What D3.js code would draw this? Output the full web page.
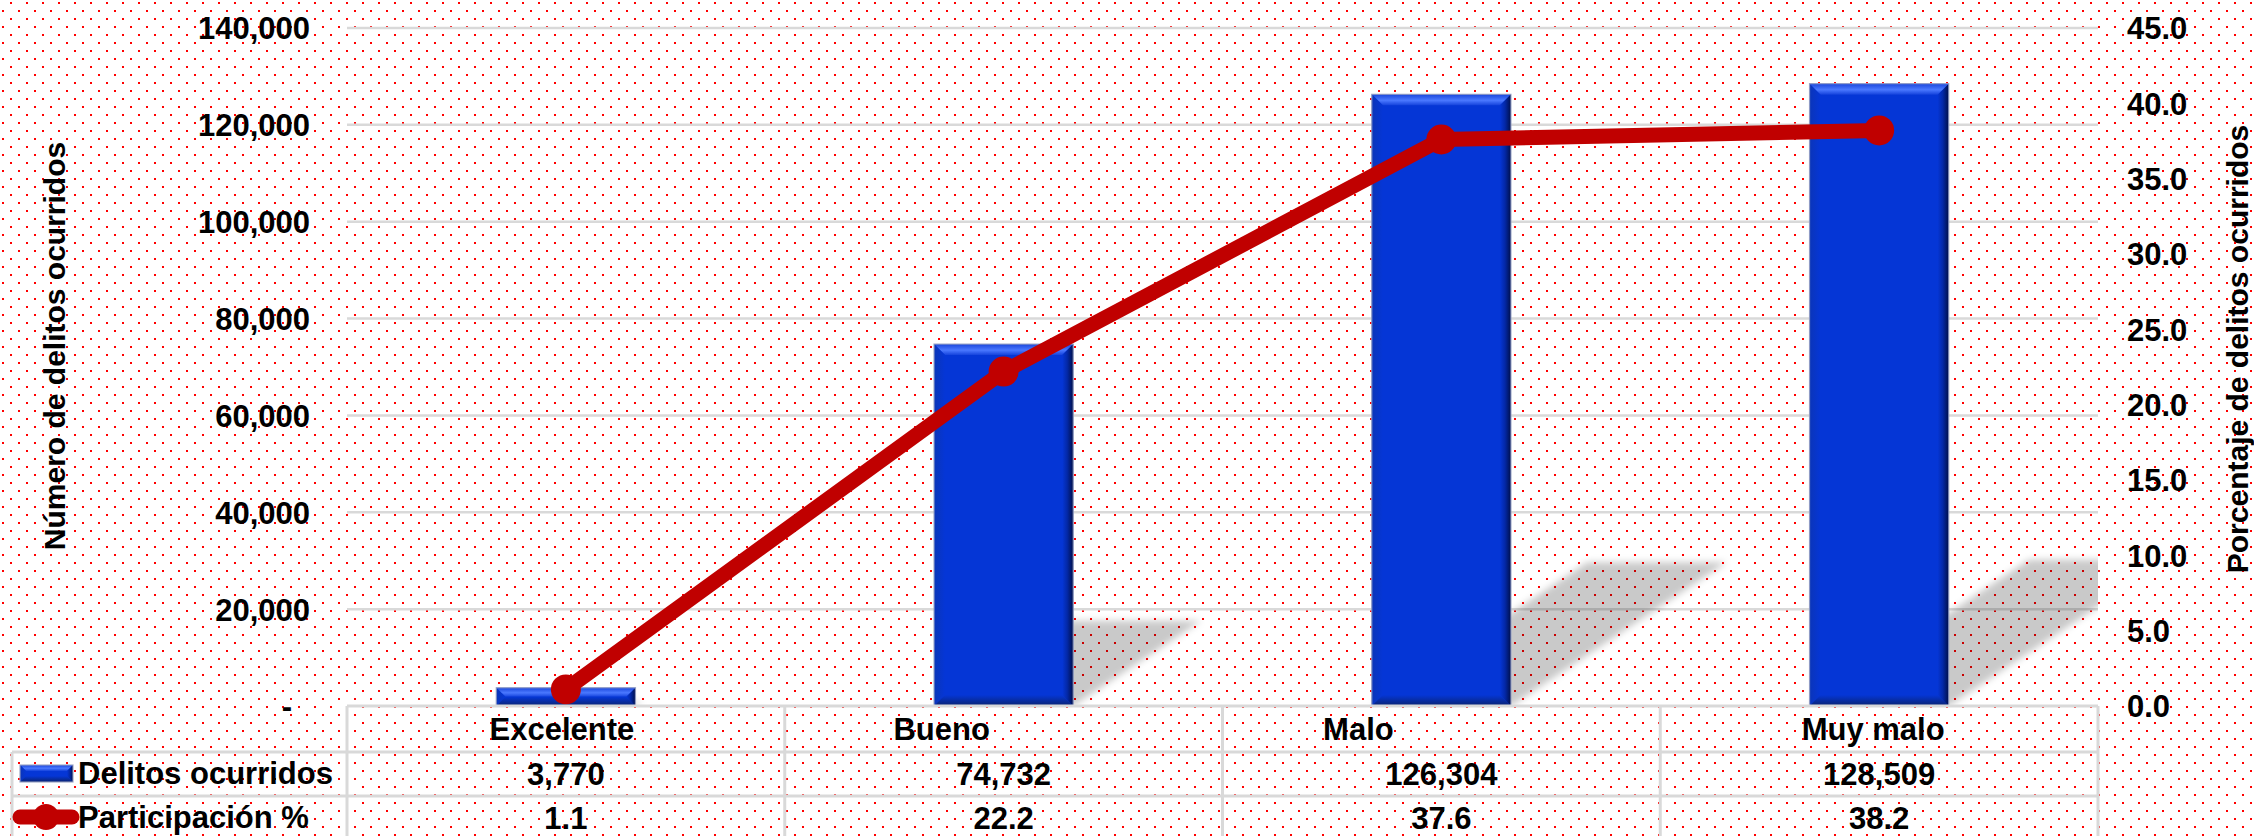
<!DOCTYPE html>
<html>
<head>
<meta charset="utf-8">
<script src="https://cdn.jsdelivr.net/npm/d3@7/dist/d3.min.js"></script>
<style>
  html, body { margin: 0; padding: 0; background: #ffffff; }
  svg { display: block; }
  text { font-family: "Liberation Sans", Arial, sans-serif; font-weight: bold; fill: #000; }
</style>
</head>
<body>
<svg id="chart" width="2254" height="836"></svg>
<script>
// ---------------- DATA ----------------
const categories = ["Excelente", "Bueno", "Malo", "Muy malo"];
const delitos = [3770, 74732, 126304, 128509];
const participacion = [1.1, 22.2, 37.6, 38.2];
const seriesNames = ["Delitos ocurridos", "Participación %"];
const leftTicks = [0, 20000, 40000, 60000, 80000, 100000, 120000, 140000];
const rightTicks = [0, 5, 10, 15, 20, 25, 30, 35, 40, 45];
const leftTitle = "Número de delitos ocurridos";
const rightTitle = "Porcentaje de delitos ocurridos";

// ---------------- LAYOUT ----------------
const W = 2254, H = 836;
const plot = { left: 347, right: 2098, top: 28, bottom: 706 };
const tableRows = [706, 752, 796, 842];
const tableLeft = 12;
const catLabelDx = [-4, -62, -83, -6];
const FS = 31;

const svg = d3.select("#chart");
const defs = svg.append("defs");

// dotted background pattern
const pat = defs.append("pattern").attr("id", "dots").attr("patternUnits", "userSpaceOnUse")
  .attr("width", 16).attr("height", 16);
pat.append("rect").attr("width", 16).attr("height", 16).attr("fill", "#ffffff");
pat.append("rect").attr("x", 10).attr("y", 2).attr("width", 2).attr("height", 2).attr("fill", "#ff0000");
pat.append("rect").attr("x", 2).attr("y", 10).attr("width", 2).attr("height", 2).attr("fill", "#ff0000");
svg.append("rect").attr("width", W).attr("height", H).attr("fill", "url(#dots)");

// gradients for bevelled bars
function grad(id, x2, y2, stops) {
  const g = defs.append("linearGradient").attr("id", id)
    .attr("x1", 0).attr("y1", 0).attr("x2", x2).attr("y2", y2);
  stops.forEach(s => g.append("stop").attr("offset", s[0]).attr("stop-color", s[1]));
}
const BODY = "#0536d6";
grad("gTop", 0, 1, [[0, "#1a46dc"], [0.55, "#4a78ff"], [1, "#1442dc"]]);
grad("gRight", 1, 0, [[0, BODY], [0.45, "#0328a8"], [1, "#000f4a"]]);
grad("gBottom", 0, 1, [[0, BODY], [1, "#0a2370"]]);
grad("gLeft", 1, 0, [[0, "#0b35b8"], [1, BODY]]);

// shadow blur + clip
defs.append("filter").attr("id", "blur").attr("x", "-20%").attr("y", "-20%").attr("width", "140%").attr("height", "140%")
  .append("feGaussianBlur").attr("stdDeviation", 3.5);
defs.append("clipPath").attr("id", "plotClip").append("rect")
  .attr("x", plot.left).attr("y", plot.top).attr("width", plot.right - plot.left).attr("height", plot.bottom - plot.top);

// ---------------- SCALES ----------------
const xCol = d3.scaleBand().domain(categories).range([plot.left, plot.right]).padding(0);
const xBar = d3.scaleBand().domain(categories).range([plot.left, plot.right]).paddingInner(0.682).paddingOuter(0.341);
const yL = d3.scaleLinear().domain([0, 140000]).range([plot.bottom, plot.top]);
const yR = d3.scaleLinear().domain([0, 45]).range([plot.bottom, plot.top]);
const cx = c => xCol(c) + xCol.bandwidth() / 2;

// ---------------- GRIDLINES ----------------
svg.append("g").selectAll("line").data(leftTicks.filter(t => t > 0)).join("line")
  .attr("x1", plot.left).attr("x2", plot.right)
  .attr("y1", d => yL(d)).attr("y2", d => yL(d))
  .attr("stroke", "#d9d9d9").attr("stroke-width", 2.5);

// ---------------- AXES ----------------
const fmtL = d3.format(",");
const leftAxis = d3.axisLeft(yL).tickValues(leftTicks).tickSize(0).tickPadding(0)
  .tickFormat(d => d === 0 ? "-" : fmtL(d));
const gL = svg.append("g").attr("transform", "translate(310,0)").call(leftAxis);
gL.select(".domain").remove();
gL.selectAll("text").attr("font-size", FS).attr("font-family", null).attr("dy", "0.35em")
  .attr("dx", d => d === 0 ? -18 : 0);

const rightAxis = d3.axisRight(yR).tickValues(rightTicks).tickSize(0).tickPadding(0)
  .tickFormat(d3.format(".1f"));
const gR = svg.append("g").attr("transform", "translate(2127,0)").call(rightAxis);
gR.select(".domain").remove();
gR.selectAll("text").attr("font-size", FS).attr("font-family", null).attr("dy", "0.35em");

// axis titles
svg.append("text").attr("transform", "translate(65,346) rotate(-90)")
  .attr("text-anchor", "middle").attr("font-size", 30).text(leftTitle);
svg.append("text").attr("transform", "translate(2248,349) rotate(-90)")
  .attr("text-anchor", "middle").attr("font-size", 30).text(rightTitle);

// ---------------- SHADOWS ----------------
const shadowRatio = 0.235, shadowSkew = 1.5;
svg.append("g").attr("clip-path", "url(#plotClip)").append("g").attr("filter", "url(#blur)")
  .selectAll("path").data(categories).join("path")
  .attr("d", (c, i) => {
    const x0 = xBar(c), w = xBar.bandwidth();
    const hs = (plot.bottom - yL(delitos[i])) * shadowRatio;
    const b = plot.bottom;
    return `M${x0},${b} L${x0 + w},${b} L${x0 + w + hs * shadowSkew},${b - hs} L${x0 + hs * shadowSkew},${b - hs} Z`;
  })
  .attr("fill", "rgba(0,0,0,0.21)");

// ---------------- BARS ----------------
function bevelBar(g, x, y, w, h, bev) {
  const b = Math.min(bev, h / 2, w / 2);
  g.append("rect").attr("x", x).attr("y", y).attr("width", w).attr("height", h).attr("fill", BODY);
  g.append("path").attr("d", `M${x},${y} L${x + w},${y} L${x + w - b},${y + b} L${x + b},${y + b} Z`).attr("fill", "url(#gTop)");
  g.append("path").attr("d", `M${x},${y} L${x + b},${y + b} L${x + b},${y + h - b} L${x},${y + h} Z`).attr("fill", "url(#gLeft)");
  g.append("path").attr("d", `M${x},${y + h} L${x + b},${y + h - b} L${x + w - b},${y + h - b} L${x + w},${y + h} Z`).attr("fill", "url(#gBottom)");
  g.append("path").attr("d", `M${x + w},${y} L${x + w},${y + h} L${x + w - b},${y + h - b} L${x + w - b},${y + b} Z`).attr("fill", "url(#gRight)");
  g.append("rect").attr("x", x).attr("y", y).attr("width", w).attr("height", h)
    .attr("fill", "none").attr("stroke", "rgba(150,160,195,0.9)").attr("stroke-width", 1.2);
}
const barsG = svg.append("g");
categories.forEach((c, i) => {
  const y = yL(delitos[i]);
  bevelBar(barsG.append("g"), xBar(c), y, xBar.bandwidth(), plot.bottom - y, 11);
});

// ---------------- LINE ----------------
const line = d3.line().x((d, i) => cx(categories[i])).y(d => yR(d));
svg.append("path").datum(participacion).attr("d", line)
  .attr("fill", "none").attr("stroke", "#c00000").attr("stroke-width", 15)
  .attr("stroke-linejoin", "round").attr("stroke-linecap", "round");
svg.append("g").selectAll("circle").data(participacion).join("circle")
  .attr("cx", (d, i) => cx(categories[i])).attr("cy", d => yR(d)).attr("r", 15).attr("fill", "#c00000");

// ---------------- DATA TABLE ----------------
const tg = svg.append("g");
const cols = categories.map(c => xCol(c)).concat([plot.right]);
const border = "#d9d9d9";
// horizontal lines
tg.append("line").attr("x1", plot.left).attr("x2", plot.right).attr("y1", tableRows[0]).attr("y2", tableRows[0])
  .attr("stroke", border).attr("stroke-width", 3);
[tableRows[1], tableRows[2]].forEach(y => tg.append("line").attr("x1", tableLeft).attr("x2", plot.right)
  .attr("y1", y).attr("y2", y).attr("stroke", border).attr("stroke-width", 3));
// vertical lines
cols.forEach(x => tg.append("line").attr("x1", x).attr("x2", x).attr("y1", tableRows[0]).attr("y2", H)
  .attr("stroke", border).attr("stroke-width", 3));
tg.append("line").attr("x1", tableLeft).attr("x2", tableLeft).attr("y1", tableRows[1]).attr("y2", H)
  .attr("stroke", border).attr("stroke-width", 3);

// category labels
tg.selectAll("text.cat").data(categories).join("text").attr("class", "cat")
  .attr("x", (c, i) => cx(c) + catLabelDx[i]).attr("y", 740)
  .attr("text-anchor", "middle").attr("font-size", FS).text(c => c);
// values
const fmtV = d3.format(",");
tg.selectAll("text.v1").data(delitos).join("text").attr("class", "v1")
  .attr("x", (d, i) => cx(categories[i])).attr("y", 785)
  .attr("text-anchor", "middle").attr("font-size", FS).text(d => fmtV(d));
tg.selectAll("text.v2").data(participacion).join("text").attr("class", "v2")
  .attr("x", (d, i) => cx(categories[i])).attr("y", 829)
  .attr("text-anchor", "middle").attr("font-size", FS).text(d => d3.format(".1f")(d));

// legend keys
bevelBar(tg.append("g"), 20, 765, 53, 17, 6);
tg.append("line").attr("x1", 20).attr("x2", 72).attr("y1", 817).attr("y2", 817)
  .attr("stroke", "#c00000").attr("stroke-width", 15).attr("stroke-linecap", "round");
tg.append("circle").attr("cx", 46).attr("cy", 817).attr("r", 13).attr("fill", "#c00000");
tg.append("text").attr("x", 78).attr("y", 784).attr("font-size", FS).text(seriesNames[0]);
tg.append("text").attr("x", 78).attr("y", 828).attr("font-size", FS).text(seriesNames[1]);
</script>
</body>
</html>
